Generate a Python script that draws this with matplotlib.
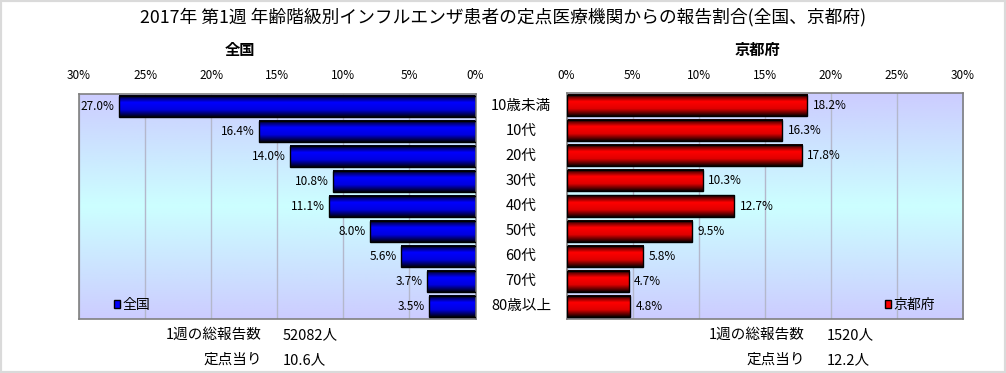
import numpy as np
import matplotlib
matplotlib.use("Agg")
import matplotlib.pyplot as plt
from matplotlib.colors import LinearSegmentedColormap
from matplotlib.patches import Rectangle, Patch

plt.rcParams['font.family'] = ['Noto Sans CJK JP', 'DejaVu Sans']

# データ
categories = ['10歳未満', '10代', '20代', '30代', '40代', '50代', '60代', '70代', '80歳以上']
zenkoku = [27.0, 16.4, 14.0, 10.8, 11.1, 8.0, 5.6, 3.7, 3.5]
kyoto = [18.2, 16.3, 17.8, 10.3, 12.7, 9.5, 5.8, 4.7, 4.8]
ticks = [0, 5, 10, 15, 20, 25, 30]
title = '2017年 第1週 年齢階級別インフルエンザ患者の定点医療機関からの報告割合(全国、京都府)'
zenkoku_total = '52082人'
zenkoku_per = '10.6人'
kyoto_total = '1520人'
kyoto_per = '12.2人'

W, H = 1006, 373
fig = plt.figure(figsize=(W / 100, H / 100), dpi=100)
fig.patch.set_facecolor('white')
fig.patches.append(Rectangle((0, 0), 1, 1, transform=fig.transFigure,
                             fill=False, edgecolor='#dadada', lw=3))

bg_cmap = LinearSegmentedColormap.from_list('bg', ['#ccccff', '#ccffff', '#ccccff'])
blue_cmap = LinearSegmentedColormap.from_list('b', ['#000008', '#0000ff', '#0000e0', '#000008'])
red_cmap = LinearSegmentedColormap.from_list('r', ['#080000', '#ff0000', '#e00000', '#080000'])

ax1 = fig.add_axes([79 / W, 1 - 319 / H, 396.5 / W, 225.5 / H])
ax2 = fig.add_axes([566.5 / W, 1 - 319 / H, 396.5 / W, 226 / H])

y = np.arange(len(categories))
grad = np.linspace(0, 1, 256).reshape(-1, 1)


def draw(ax, vals, cmap, left):
    ax.imshow(grad, cmap=bg_cmap, aspect='auto', extent=[0, 1, 0, 1],
              transform=ax.transAxes, zorder=0)
    bars = ax.barh(y, vals, height=0.84, facecolor='none', edgecolor='black',
                   lw=1, zorder=3)
    for b, v in zip(bars, vals):
        x0, y0, w, h = b.get_x(), b.get_y(), b.get_width(), b.get_height()
        ax.imshow(grad, cmap=cmap, aspect='auto', extent=[x0, x0 + w, y0 + h, y0],
                  zorder=2)
        if left:
            ax.annotate('%.1f%%' % v, (v, b.get_y() + h / 2), xytext=(-3, 0),
                        textcoords='offset points', ha='right', va='center',
                        fontsize=8.5, zorder=4)
        else:
            ax.annotate('%.1f%%' % v, (v, b.get_y() + h / 2), xytext=(4, 0),
                        textcoords='offset points', ha='left', va='center',
                        fontsize=8.5, zorder=4)
    if left:
        ax.set_xlim(30, 0)
    else:
        ax.set_xlim(0, 30)
    ax.set_ylim(len(categories) - 0.5, -0.5)
    ax.set_xticks(ticks)
    ax.set_xticklabels(['%d%%' % t for t in ticks], fontsize=8.5)
    ax.xaxis.tick_top()
    ax.tick_params(axis='x', length=0, pad=8)
    ax.set_yticks([])
    ax.grid(axis='x', color='#b4b8cc', lw=1, zorder=1)
    ax.set_axisbelow(True)
    for s in ax.spines.values():
        s.set_color('#808080')
        s.set_linewidth(1.2)


draw(ax1, zenkoku, blue_cmap, True)
draw(ax2, kyoto, red_cmap, False)

# カテゴリラベル
for i, c in enumerate(categories):
    px = ax1.transData.transform((0, i))[1]
    fig.text(521 / W, px / H, c, ha='center', va='center', fontsize=10.5)

fig.text(0.5, 1 - 17 / H, title, ha='center', va='center', fontsize=12.8)
fig.text(240 / W, 1 - 50 / H, '全国', ha='center', va='center', fontsize=11, fontweight='bold')
fig.text(757 / W, 1 - 50 / H, '京都府', ha='center', va='center', fontsize=11, fontweight='bold')

# 凡例
ax1.legend(handles=[Patch(facecolor='#0000ff', edgecolor='black', label='全国')],
           loc='center left', bbox_to_anchor=(114 / W, 1 - 305 / H),
           bbox_transform=fig.transFigure, frameon=False, fontsize=10,
           handlelength=0.45, handleheight=0.45, handletextpad=0.15,
           borderpad=0, borderaxespad=0)
ax2.legend(handles=[Patch(facecolor='#ff0000', edgecolor='black', label='京都府')],
           loc='center left', bbox_to_anchor=(885 / W, 1 - 305 / H),
           bbox_transform=fig.transFigure, frameon=False, fontsize=10,
           handlelength=0.45, handleheight=0.45, handletextpad=0.15,
           borderpad=0, borderaxespad=0)

# 下の注記
fs = 10.5
fig.text(262 / W, 1 - 335 / H, '1週の総報告数', ha='right', va='center', fontsize=fs)
fig.text(283 / W, 1 - 335 / H, zenkoku_total, ha='left', va='center', fontsize=fs)
fig.text(262 / W, 1 - 360 / H, '定点当り', ha='right', va='center', fontsize=fs)
fig.text(283 / W, 1 - 360 / H, zenkoku_per, ha='left', va='center', fontsize=fs)
fig.text(805 / W, 1 - 335 / H, '1週の総報告数', ha='right', va='center', fontsize=fs)
fig.text(827 / W, 1 - 335 / H, kyoto_total, ha='left', va='center', fontsize=fs)
fig.text(805 / W, 1 - 360 / H, '定点当り', ha='right', va='center', fontsize=fs)
fig.text(827 / W, 1 - 360 / H, kyoto_per, ha='left', va='center', fontsize=fs)

fig.savefig('out.png', dpi=100)
